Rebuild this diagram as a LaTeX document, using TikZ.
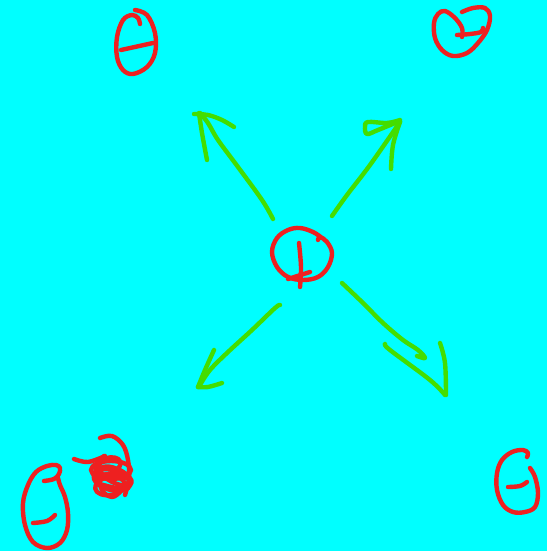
\documentclass[tikz,border=0pt]{standalone}
\definecolor{bg}{HTML}{00FFFF}
\definecolor{pen}{HTML}{EE2020}
\definecolor{grn}{HTML}{44DD00}
\begin{document}
\begin{tikzpicture}[x=1pt,y=-1pt,
  redink/.style={draw=pen,line width=4.4pt,line cap=round,line join=round},
  greenink/.style={draw=grn,line width=4.4pt,line cap=round,line join=round}]
\fill[bg] (0,0) rectangle (547,551);
\useasboundingbox (0,0) rectangle (547,551);
% top-left minus
\draw[redink] plot[smooth,tension=0.6] coordinates {(135,10) (147,15) (155,33) (155,53) (147,67) (133,74) (123,70) (117,57) (117,37) (123,20) (132,15) (138,18) (140,24)};
\draw[redink] (121,50) -- (153,43);
% top-right minus
\draw[redink] plot[smooth,tension=0.6] coordinates {(462,12) (473,8) (485,8) (490,16) (487,30) (478,43) (467,53) (453,56) (442,50) (435,38) (434,23) (438,14) (445,11) (455,18) (462,28) (462,37)};
\draw[redink] plot[smooth,tension=0.6] coordinates {(457,35) (470,34) (481,32) (483,28)};
% center plus
\draw[redink] plot[smooth,tension=0.6] coordinates {(318,240) (320,237) (327,242) (332,253) (328,267) (318,277) (303,280) (288,277) (277,267) (272,252) (277,238) (288,230) (300,228) (313,232) (322,238)};
\draw[redink] plot[smooth,tension=0.6] coordinates {(299,243) (301,267) (300,287)};
\draw[redink] (288,279) -- (310,272);
% bottom-right minus
\draw[redink] plot[smooth,tension=0.6] coordinates {(530,468) (535,477) (538,493) (535,507) (525,512) (513,512) (503,505) (497,490) (497,473) (502,460) (512,452) (523,450) (528,453) (527,457)};
\draw[redink] plot[smooth,tension=0.6] coordinates {(508,487) (520,486) (527,482)};
% bottom-left minus
\draw[redink] plot[smooth,tension=0.6] coordinates {(44,481) (54,479) (59,474) (60,468) (56,465) (47,466) (36,472) (28,485) (23,503) (25,525) (33,542) (47,548) (60,543) (67,530) (68,513) (65,497) (60,485) (58,478)};
\draw[redink] plot[smooth,tension=0.6] coordinates {(33,523) (47,521) (55,515)};
% scribble
\draw[redink] plot[smooth,tension=0.6] coordinates {(100,438) (112,436) (123,445) (128,460) (129,478) (125,495)};
\draw[redink] plot[smooth,tension=0.6] coordinates {(74,459) (88,462) (105,456)};
\draw[redink] (111,470) ellipse [x radius=20, y radius=9];
\draw[redink,rotate around={-15:(112,480)}] (112,480) ellipse [x radius=19, y radius=10];
\draw[redink,rotate around={10:(110,486)}] (110,486) ellipse [x radius=15, y radius=9];
\draw[redink,rotate around={-25:(116,476)}] (116,476) ellipse [x radius=17, y radius=7];
\draw[redink,rotate around={20:(108,466)}] (108,466) ellipse [x radius=13, y radius=8];
\draw[redink] plot[smooth,tension=0.6] coordinates {(104,456) (98,470) (102,490) (112,497) (120,492)};
\draw[redink] plot[smooth,tension=0.6] coordinates {(95,478) (110,474) (130,480) (120,488) (100,484)};
% arrow up-left
\draw[greenink] plot[smooth,tension=0.6] coordinates {(273,219) (262,200) (238,167) (218,140) (208,123) (200,113)};
\draw[greenink] plot[smooth,tension=0.6] coordinates {(199,113) (202,133) (207,160)};
\draw[greenink] plot[smooth,tension=0.6] coordinates {(194,114) (208,115) (222,120) (234,127)};
% arrow up-right
\draw[greenink] plot[smooth,tension=0.6] coordinates {(332,216) (347,195) (370,165) (400,122)};
\draw[greenink] plot[smooth,tension=0.6] coordinates {(400,122) (393,145) (391,169)};
\draw[greenink] plot[smooth,tension=0.6] coordinates {(400,120) (387,123) (368,122) (365,127) (367,134) (378,130) (400,121)};
% arrow down-left
\draw[greenink] plot[smooth,tension=0.6] coordinates {(280,305) (275,308) (252,330) (228,352) (210,370) (200,385)};
\draw[greenink] plot[smooth,tension=0.6] coordinates {(214,350) (205,370) (198,387)};
\draw[greenink] plot[smooth,tension=0.6] coordinates {(198,387) (208,387) (222,383)};
% arrow down-right
\draw[greenink] plot[smooth,tension=0.6] coordinates {(342,283) (363,303) (383,323) (403,340) (418,350) (425,358) (417,356)};
\draw[greenink] plot[smooth,tension=0.6] coordinates {(385,344) (390,350) (430,380) (445,395)};
\draw[greenink] plot[smooth,tension=0.6] coordinates {(440,343) (445,363) (446,395)};
\end{tikzpicture}
\end{document}
